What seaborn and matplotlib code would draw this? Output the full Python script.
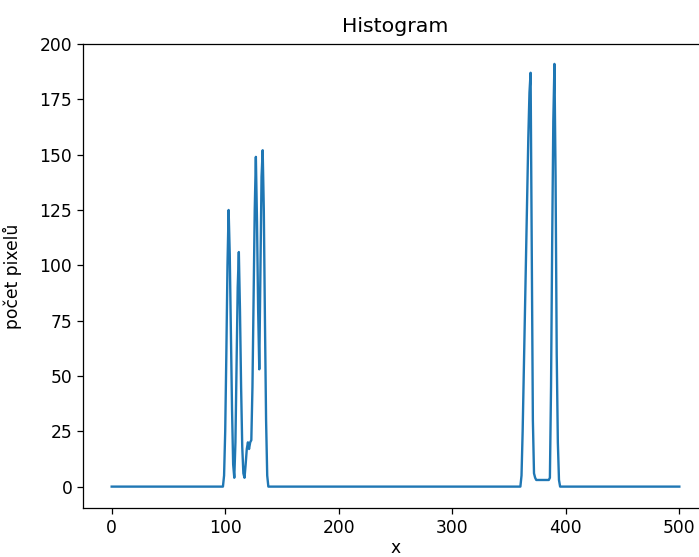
import numpy as np
import pandas as pd
import matplotlib
matplotlib.use("Agg")
import matplotlib.pyplot as plt
import seaborn as sns

# histogram bins 0..500, zero everywhere except two clusters
n_bins = 501

cluster1_start = 98
cluster1 = [0, 5, 25, 60, 100, 125, 105, 70, 35, 10, 4, 20, 55, 90, 106, 80, 45,
            18, 6, 4, 10, 17, 20, 17, 20, 21, 45, 85, 125, 149, 120, 80, 53, 95,
            140, 152, 125, 75, 30, 5, 0]

cluster2_start = 360
cluster2 = [0, 5, 25, 52, 80, 108, 135, 158, 178, 187, 110, 30, 6, 4, 3, 3, 3, 3,
            3, 3, 3, 3, 3, 3, 3, 3, 4, 45, 110, 165, 191, 140, 60, 20, 3, 0]

counts = np.zeros(n_bins)
counts[cluster1_start:cluster1_start + len(cluster1)] = cluster1
counts[cluster2_start:cluster2_start + len(cluster2)] = cluster2

df = pd.DataFrame({"x": np.arange(n_bins), "count": counts})

plt.rcParams["font.size"] = 10.9

dpi = 113.5
fig = plt.figure(figsize=(699 / dpi, 557 / dpi), dpi=dpi)
ax = fig.add_axes([83.3 / 699, 1 - 508.3 / 557, 624.4 / 699, 464.3 / 557])

sns.lineplot(data=df, x="x", y="count", ax=ax, color="#1f77b4", linewidth=1.5)

ax.set_xlim(-25, 525)
ax.set_ylim(-9.8, 200)
ax.set_xticks([0, 100, 200, 300, 400, 500])
ax.set_yticks([0, 25, 50, 75, 100, 125, 150, 175, 200])
ax.set_title("Histogram", fontsize=13, pad=7.8)
ax.set_xlabel("x", labelpad=1)
ax.set_ylabel("počet pixelů")
ax.yaxis.set_label_coords(-0.098, 0.5)

fig.savefig("out.png", dpi=dpi)
